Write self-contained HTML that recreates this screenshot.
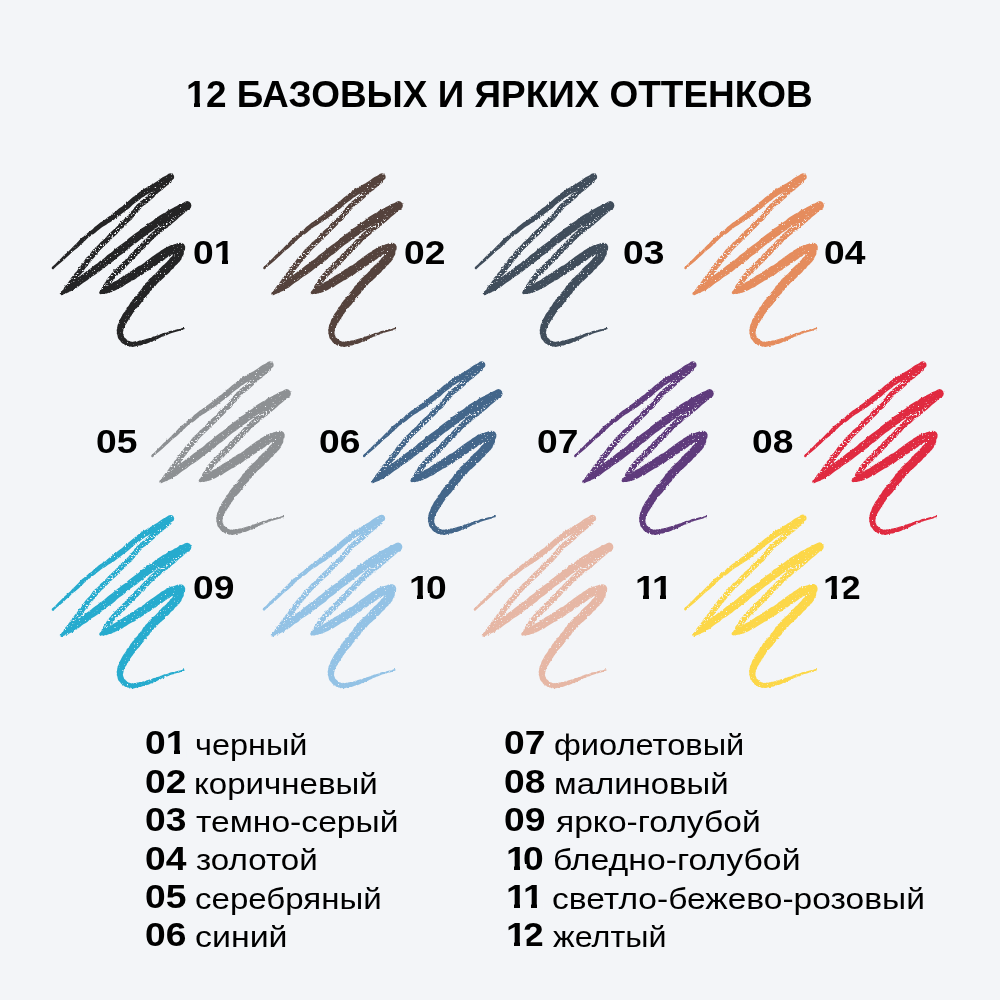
<!DOCTYPE html>
<html lang="ru"><head><meta charset="utf-8"><title>12 базовых и ярких оттенков</title>
<style>
html,body{margin:0;padding:0}
body{width:1000px;height:1000px;background:#f3f5f8;position:relative;overflow:hidden;
 font-family:"Liberation Sans",sans-serif;color:#000}
svg.art{position:absolute;left:0;top:0}
h1{position:absolute;left:185.5px;top:77.0px;margin:0;font-size:36.8px;line-height:36.8px;font-weight:700;white-space:nowrap;transform-origin:left top;transform:scaleX(1.0035)}
.n,.w{position:absolute;white-space:nowrap;transform-origin:left top}
.n{font-weight:700;font-size:32.5px;line-height:32.5px;transform:scaleX(1.145)}
.w{font-size:30.4px;line-height:30.4px}
.o{font-style:normal;position:relative;display:inline-block;margin-right:-0.1em}
h1 .o{margin-right:-0.015em}
.o::after{content:"";position:absolute;left:0;width:0.556em;bottom:0.1em;height:0.25em;background:linear-gradient(90deg,#f3f5f8 0,#f3f5f8 40.2%,transparent 40.2%,transparent 67.8%,#f3f5f8 67.8%)}
</style></head><body>
<svg class="art" width="1000" height="1000" viewBox="0 0 1000 1000">
<defs>
<filter id="fd" x="-10%" y="-10%" width="120%" height="120%" color-interpolation-filters="sRGB">
<feTurbulence type="fractalNoise" baseFrequency="0.35" numOctaves="2" seed="4" result="n1"/>
<feDisplacementMap in="SourceGraphic" in2="n1" scale="2.2" xChannelSelector="R" yChannelSelector="G" result="d"/>
<feTurbulence type="fractalNoise" baseFrequency="0.7" numOctaves="2" seed="7" result="n2"/>
<feColorMatrix in="n2" type="matrix" values="0 0 0 0 0  0 0 0 0 0  0 0 0 0 0  0 0 0 7 -1.15" result="m"/>
<feComposite in="d" in2="m" operator="in" result="c"/>
<feGaussianBlur in="c" stdDeviation="0.35"/>
</filter>
<filter id="fl" x="-10%" y="-10%" width="120%" height="120%" color-interpolation-filters="sRGB">
<feTurbulence type="fractalNoise" baseFrequency="0.45" numOctaves="2" seed="9" result="n1"/>
<feDisplacementMap in="SourceGraphic" in2="n1" scale="2.2" xChannelSelector="R" yChannelSelector="G" result="d"/>
<feTurbulence type="fractalNoise" baseFrequency="0.6" numOctaves="2" seed="12" result="n2"/>
<feColorMatrix in="n2" type="matrix" values="0 0 0 0 0  0 0 0 0 0  0 0 0 0 0  0 0 0 7 -2.0" result="m"/>
<feComposite in="d" in2="m" operator="in" result="c"/>
<feGaussianBlur in="c" stdDeviation="0.35"/>
</filter>
<symbol id="s" overflow="visible"><path filter="url(#fl)" d="M127.2,18.3 L126.0,19.1 L125.0,20.2 L123.8,20.9 L122.8,22.1 L121.8,23.1 L120.6,23.9 L119.2,24.7 L118.1,25.9 L117.0,27.0 L115.8,28.2 L114.4,29.2 L113.3,30.5 L112.0,31.6 L110.5,32.5 L109.3,33.7 L108.1,34.8 L107.2,36.2 L105.8,37.0 L104.6,38.1 L103.1,38.9 L102.0,40.2 L100.5,41.0 L99.5,42.5 L98.1,43.6 L96.7,44.7 L95.7,46.1 L94.6,47.2 L93.7,48.6 L92.9,50.0 L91.6,51.1 L90.4,52.6 L89.0,54.2 L87.6,56.0 L85.8,57.8 L83.6,59.3 L81.6,61.3 L79.5,63.3 L77.6,65.7 L75.5,68.0 L73.1,70.1 L70.7,72.3 L68.2,74.7 L65.9,77.5 L63.2,80.0 L60.3,82.4 L58.0,85.3 L55.2,87.5 L52.8,90.0 L50.9,92.8 L48.9,95.4 L46.4,97.6 L44.6,100.2 L42.9,102.7 L41.1,105.1 L39.3,107.1 L37.9,109.4 L36.6,111.5 L34.9,113.1 L33.7,115.0 L32.2,116.6 L30.9,118.1 L30.0,119.8 L29.0,121.2 L28.2,122.6 L26.9,123.5 L26.6,124.8 L25.5,125.4 L25.1,126.4 L24.4,127.1 L23.9,127.9 L23.7,129.0 L23.1,129.9 L22.5,130.7 L22.6,131.7 L23.3,132.6 L24.2,133.0 L25.2,132.9 L26.0,132.2 L26.8,131.4 L27.6,130.8 L28.1,130.0 L28.9,129.4 L29.2,128.4 L30.3,127.7 L31.2,126.8 L32.0,125.5 L33.0,124.2 L34.1,122.9 L35.2,121.4 L36.6,119.9 L37.7,118.1 L39.0,116.4 L40.6,114.6 L42.2,112.7 L43.8,110.6 L45.3,108.2 L47.4,106.1 L49.0,103.6 L51.0,101.2 L53.1,98.8 L55.1,96.4 L57.2,94.0 L59.2,91.3 L61.5,88.7 L64.2,86.3 L66.8,83.7 L69.4,81.2 L71.9,78.5 L74.5,76.2 L77.0,74.0 L79.1,71.6 L81.2,69.4 L83.5,67.4 L85.6,65.3 L87.5,63.2 L89.4,61.3 L91.5,59.8 L92.9,57.8 L94.5,56.3 L95.6,54.5 L97.0,53.3 L98.2,52.1 L99.1,50.9 L99.8,49.5 L101.0,48.6 L101.8,47.3 L102.9,46.2 L104.1,45.2 L105.5,44.4 L106.7,43.3 L108.1,42.4 L109.2,41.3 L110.5,40.2 L111.8,39.1 L113.1,38.0 L114.4,36.8 L115.4,35.4 L116.9,34.4 L117.9,33.1 L119.3,32.1 L120.5,31.0 L121.9,30.2 L123.0,29.2 L124.0,28.0 L125.3,27.3 L126.2,26.2 L127.3,25.2 L128.6,24.6 L129.6,23.5 L131.0,22.9 L131.6,21.5 L131.8,20.0 L131.2,18.7 L130.0,17.9 L128.5,17.7Z M144.0,45.2 L141.9,46.9 L139.9,48.9 L137.7,50.8 L135.6,52.5 L133.7,54.5 L131.5,56.0 L129.8,57.8 L128.1,59.3 L126.5,60.4 L125.4,61.7 L123.8,62.4 L123.0,63.7 L121.7,64.3 L120.4,65.1 L119.5,66.4 L118.1,67.2 L116.7,68.2 L115.4,69.2 L114.4,70.7 L113.0,71.7 L111.6,72.7 L110.5,74.0 L109.1,75.0 L107.9,76.3 L107.0,77.8 L105.7,78.8 L104.3,79.7 L103.3,81.1 L102.1,82.3 L100.9,83.6 L99.6,85.1 L97.9,86.4 L96.3,88.2 L94.2,89.9 L92.6,92.3 L90.2,94.1 L88.6,96.5 L86.3,98.2 L84.6,100.3 L82.8,101.9 L81.4,103.5 L80.1,105.1 L78.4,106.1 L77.3,107.5 L76.2,108.8 L74.9,109.8 L74.0,111.1 L72.9,112.1 L72.0,112.9 L71.2,113.8 L70.7,114.8 L70.1,115.5 L69.4,116.1 L68.8,116.8 L68.1,117.4 L67.6,118.3 L66.9,119.1 L66.5,120.2 L65.9,121.2 L65.3,122.2 L64.8,123.2 L64.1,124.0 L63.5,124.7 L63.0,125.4 L62.9,126.3 L62.4,126.7 L62.1,127.3 L61.9,127.8 L61.6,128.2 L61.5,128.8 L61.4,129.3 L61.1,129.8 L60.8,130.9 L61.1,132.0 L61.8,132.9 L62.9,133.2 L64.0,132.9 L65.0,132.3 L65.2,131.7 L65.6,131.3 L65.9,130.9 L66.2,130.5 L66.5,130.0 L67.2,129.7 L67.4,129.1 L67.8,128.4 L68.2,127.7 L69.0,127.0 L69.3,125.9 L69.8,125.0 L70.4,124.1 L71.4,123.5 L71.8,122.5 L72.2,121.6 L72.7,120.8 L73.5,120.3 L73.7,119.5 L74.4,119.0 L74.7,118.2 L75.7,117.8 L76.3,117.0 L76.9,115.8 L77.9,114.9 L79.2,114.1 L80.3,113.0 L81.3,111.5 L82.5,110.2 L84.2,109.2 L85.5,107.6 L86.9,105.9 L88.6,104.2 L90.6,102.4 L92.8,100.5 L94.5,98.2 L96.8,96.3 L98.7,94.2 L100.4,92.3 L102.0,90.5 L103.4,88.9 L105.1,87.8 L106.1,86.3 L107.2,85.0 L108.7,84.2 L109.6,82.9 L110.7,81.6 L111.9,80.5 L113.1,79.3 L114.3,78.1 L115.6,77.1 L117.1,76.2 L118.3,75.1 L119.5,73.9 L120.7,72.8 L121.9,71.8 L123.2,71.0 L124.2,70.0 L125.3,69.0 L126.5,68.2 L127.8,67.4 L128.8,66.0 L130.5,65.2 L131.9,63.7 L133.7,62.3 L135.6,60.8 L137.5,58.9 L139.5,57.0 L141.8,55.3 L143.9,53.5 L145.9,51.5 L147.9,49.7 L149.0,48.5 L149.1,46.9 L148.4,45.4 L147.0,44.5 L145.4,44.4Z"/><path filter="url(#fd)" d="M13.8,108.8 L16.7,106.0 L20.0,103.3 L23.3,100.6 L26.4,97.5 L29.5,94.8 L32.2,92.0 L35.0,89.8 L37.4,88.0 L39.2,86.3 L40.5,85.0 L41.3,83.7 L42.5,83.2 L43.3,82.5 L43.9,81.4 L45.1,80.7 L46.2,79.4 L47.8,78.1 L49.6,76.8 L51.5,75.2 L53.6,74.0 L55.6,72.5 L57.5,70.7 L59.5,69.2 L61.3,67.7 L63.1,66.5 L65.0,65.6 L66.6,64.5 L68.1,63.2 L70.1,62.2 L72.0,60.9 L74.3,59.6 L76.7,57.7 L79.5,55.6 L82.6,53.1 L86.1,50.6 L89.5,47.9 L92.7,44.8 L96.0,42.2 L99.3,40.1 L101.7,37.8 L104.1,36.4 L106.0,35.0 L107.9,34.1 L109.6,33.0 L111.3,32.3 L113.2,31.7 L115.0,30.8 L116.9,29.7 L118.8,28.4 L120.7,27.2 L122.6,26.0 L124.5,24.7 L126.5,23.6 L128.6,22.6 L130.3,21.1 L132.3,19.9 L133.8,18.8 L134.2,16.9 L133.7,15.1 L132.3,13.7 L130.4,13.3 L128.5,13.8 L126.7,15.2 L124.7,16.2 L122.6,17.3 L120.8,18.6 L119.0,20.0 L117.1,21.3 L115.1,22.4 L113.3,23.7 L111.5,24.6 L109.9,25.6 L108.1,26.3 L106.6,27.6 L104.7,28.6 L102.7,29.7 L100.5,31.2 L98.2,33.0 L95.5,35.2 L92.4,37.6 L89.1,40.4 L85.6,43.0 L82.4,46.2 L78.9,48.6 L75.9,51.2 L73.2,53.2 L71.0,55.0 L68.9,56.4 L67.1,57.8 L65.6,59.3 L63.8,60.3 L62.1,61.5 L60.3,62.6 L58.5,64.0 L56.7,65.6 L54.6,67.0 L52.9,69.0 L50.9,70.6 L48.8,72.0 L47.0,73.6 L45.2,75.0 L43.7,76.5 L42.1,77.4 L41.2,78.5 L40.5,79.5 L39.4,80.1 L38.7,81.1 L37.7,82.1 L36.4,83.4 L34.7,85.1 L32.5,87.2 L30.1,89.8 L27.3,92.5 L24.1,95.1 L21.1,98.2 L18.0,101.2 L15.1,104.3 L12.0,106.9 L11.8,107.6 L11.7,108.3 L12.1,108.9 L12.6,109.2 L13.3,109.3Z M22.5,135.1 L23.7,134.2 L25.1,133.7 L26.5,133.2 L28.0,132.8 L29.2,131.8 L30.7,131.2 L32.3,130.6 L34.0,129.8 L35.3,128.5 L37.1,127.7 L38.6,126.5 L40.1,125.3 L41.7,124.0 L43.4,122.7 L45.4,121.6 L47.4,120.3 L49.3,118.4 L51.6,116.7 L54.3,115.2 L56.9,113.4 L59.6,111.6 L62.1,109.4 L64.7,107.5 L67.3,105.5 L69.9,103.7 L72.4,101.8 L74.9,100.0 L77.0,97.7 L79.5,95.7 L82.2,93.9 L84.8,91.9 L87.3,89.5 L90.2,87.2 L93.3,84.8 L96.8,82.6 L99.9,79.9 L103.1,77.4 L106.5,75.2 L109.4,72.7 L112.4,70.9 L115.0,68.7 L117.6,67.0 L120.4,65.6 L122.9,64.1 L125.2,62.4 L127.5,60.9 L130.0,59.7 L132.1,58.0 L134.3,56.8 L136.6,56.0 L138.7,54.9 L140.5,53.4 L142.6,52.3 L144.9,51.7 L146.9,50.5 L149.1,49.5 L150.7,47.9 L151.4,45.7 L150.9,43.5 L149.4,41.8 L147.2,41.1 L145.0,41.7 L143.0,42.9 L140.8,43.7 L138.7,44.7 L136.8,46.1 L134.6,46.9 L132.5,48.3 L130.1,49.4 L127.7,50.6 L125.6,52.4 L123.0,53.5 L120.6,55.1 L118.1,56.6 L115.5,58.3 L113.2,60.4 L110.5,62.3 L107.5,63.9 L104.8,66.5 L101.4,68.4 L98.5,71.3 L95.1,73.6 L91.8,76.1 L88.5,78.6 L85.6,81.3 L82.6,83.5 L79.7,85.4 L77.1,87.6 L74.5,89.6 L72.2,91.7 L69.7,93.5 L67.2,95.3 L65.0,97.4 L62.6,99.4 L59.9,101.0 L57.6,103.2 L54.8,104.9 L52.3,106.9 L49.9,109.0 L47.3,110.6 L45.0,112.4 L42.9,114.1 L40.8,115.6 L38.8,116.8 L37.2,118.3 L35.7,119.8 L34.3,121.1 L32.7,122.0 L31.4,123.2 L30.0,124.2 L28.8,125.3 L27.5,126.2 L26.5,127.4 L25.5,128.6 L24.1,129.2 L22.9,130.0 L21.8,131.1 L20.6,132.0 L20.0,132.7 L19.8,133.5 L20.0,134.4 L20.7,135.0 L21.5,135.2Z M61.6,134.0 L62.7,134.0 L63.5,133.6 L64.6,133.9 L65.5,133.4 L66.6,133.6 L67.5,133.2 L68.4,132.7 L69.6,132.9 L70.2,132.3 L71.1,132.2 L71.9,132.0 L72.5,131.3 L73.4,131.0 L74.5,130.7 L75.6,130.2 L77.0,129.5 L78.5,128.6 L80.3,127.7 L82.3,126.9 L84.2,125.5 L86.2,124.3 L88.2,123.0 L90.3,121.7 L92.2,120.6 L94.3,119.8 L96.2,118.6 L97.8,117.1 L99.8,116.0 L101.8,114.9 L103.7,113.7 L105.4,112.3 L107.3,110.9 L109.5,110.0 L111.3,108.3 L113.4,107.0 L115.5,105.8 L117.4,104.4 L119.2,103.0 L121.0,102.0 L122.7,100.9 L124.1,99.7 L125.6,98.9 L126.7,97.8 L127.8,97.0 L129.1,96.6 L130.0,95.9 L130.8,95.0 L131.9,94.7 L132.9,94.2 L134.0,93.9 L135.2,93.8 L136.3,93.3 L137.6,93.1 L138.9,92.6 L140.3,92.4 L141.8,92.4 L143.9,90.9 L145.1,88.7 L145.1,86.3 L143.9,84.1 L141.7,82.9 L139.3,82.9 L138.0,83.0 L136.8,83.4 L135.5,84.0 L134.1,84.3 L132.7,84.9 L131.1,84.9 L129.7,85.7 L128.1,86.4 L126.7,87.3 L125.2,87.8 L124.0,88.8 L122.7,89.5 L121.3,90.2 L120.1,91.2 L118.9,92.2 L117.3,93.1 L115.7,94.3 L113.9,95.6 L112.0,96.8 L110.1,98.2 L108.2,99.7 L106.2,101.0 L104.5,102.7 L102.6,104.0 L100.9,105.3 L98.7,106.0 L96.9,107.3 L95.1,108.6 L93.2,109.6 L91.5,111.0 L89.4,111.9 L87.8,113.5 L85.9,114.6 L83.7,115.6 L81.9,117.1 L79.8,118.2 L78.0,119.7 L76.2,120.7 L74.4,121.6 L72.9,122.3 L71.9,123.4 L70.9,123.8 L70.0,124.2 L69.4,124.7 L68.8,125.3 L68.0,125.3 L67.3,125.7 L66.6,126.5 L65.7,126.7 L65.1,127.6 L64.1,127.8 L63.5,128.6 L62.7,129.1 L61.9,129.8 L61.1,130.3 L60.2,130.7 L59.6,131.4 L59.2,132.3 L59.3,133.2 L59.9,133.9 L60.8,134.3Z M135.8,85.9 L135.6,87.2 L135.1,88.5 L134.9,89.8 L134.6,91.0 L133.9,91.9 L133.7,92.9 L133.5,93.9 L132.9,94.6 L132.5,95.4 L132.1,96.3 L131.2,96.9 L130.3,97.7 L129.6,98.6 L128.9,99.8 L127.8,100.7 L126.8,101.9 L125.7,103.1 L124.5,104.2 L123.1,105.2 L121.8,106.5 L120.6,107.8 L119.2,109.0 L118.3,110.7 L116.9,111.9 L115.8,113.2 L114.5,114.5 L113.0,115.5 L111.8,116.9 L110.4,118.1 L109.0,119.2 L108.0,120.8 L106.8,122.2 L105.4,123.3 L104.7,124.9 L103.2,125.9 L102.5,127.4 L101.7,128.8 L100.7,130.0 L99.8,131.2 L98.5,132.2 L97.9,133.7 L96.9,135.0 L95.6,136.0 L94.8,137.4 L93.7,138.7 L92.5,139.8 L91.7,141.2 L90.5,142.4 L89.8,143.8 L89.0,145.2 L88.1,146.5 L86.8,147.5 L86.3,149.1 L85.5,150.4 L84.6,151.7 L83.6,152.9 L82.8,154.1 L82.1,155.5 L81.3,156.9 L80.6,158.3 L79.8,159.6 L79.3,161.0 L78.9,162.5 L78.3,163.7 L77.6,164.9 L77.5,166.2 L77.1,167.3 L77.2,168.6 L76.7,169.7 L76.7,170.9 L77.0,172.1 L76.7,173.3 L77.2,174.5 L77.5,175.6 L77.7,176.8 L78.0,178.0 L78.6,179.1 L79.4,180.0 L80.3,180.8 L80.9,181.9 L81.7,182.7 L82.5,183.6 L83.7,184.0 L84.7,184.8 L85.8,185.5 L87.0,186.0 L88.3,186.0 L89.5,186.8 L91.0,186.5 L92.3,186.9 L93.8,186.8 L95.1,186.4 L96.5,186.1 L97.8,185.8 L99.2,185.5 L100.5,185.5 L101.8,185.0 L103.1,184.5 L104.3,184.1 L105.7,184.0 L107.0,183.5 L108.2,183.1 L109.5,182.6 L110.6,181.8 L112.0,181.6 L113.2,180.9 L114.5,180.5 L115.7,179.8 L117.0,179.3 L118.2,178.7 L119.4,178.1 L120.6,177.6 L121.7,176.8 L122.9,176.4 L124.1,176.2 L125.1,175.3 L126.4,175.0 L127.7,174.7 L128.9,174.1 L130.3,173.4 L131.8,172.9 L133.5,172.6 L135.2,172.0 L137.0,171.4 L138.9,171.1 L140.7,170.5 L142.4,169.5 L144.2,169.3 L144.4,168.9 L144.6,168.6 L144.6,168.3 L144.4,168.1 L144.1,167.9 L143.8,167.7 L142.0,168.1 L140.3,169.0 L138.3,169.1 L136.5,169.6 L134.7,170.1 L132.9,170.5 L131.2,170.7 L129.6,171.1 L128.2,171.8 L126.9,172.4 L125.6,172.7 L124.3,173.0 L123.0,173.1 L121.9,173.8 L120.7,174.1 L119.5,174.8 L118.3,175.2 L116.9,175.5 L115.6,175.9 L114.4,176.5 L113.0,176.6 L111.8,177.4 L110.7,178.0 L109.2,177.9 L108.1,178.4 L106.7,178.7 L105.6,179.3 L104.3,179.4 L103.1,180.0 L101.9,180.1 L100.7,180.5 L99.5,180.5 L98.3,180.9 L97.0,181.0 L95.8,181.5 L94.5,181.3 L93.3,181.8 L92.2,181.4 L91.3,181.8 L90.4,181.5 L89.7,181.1 L88.9,181.1 L88.1,180.6 L87.5,180.0 L86.8,179.7 L86.3,179.1 L85.7,178.6 L85.2,178.0 L84.6,177.7 L84.1,177.1 L84.0,176.3 L83.6,175.6 L83.4,174.9 L83.0,174.2 L83.2,173.4 L82.8,172.7 L83.3,172.0 L83.0,171.3 L83.6,170.6 L83.3,169.8 L83.5,169.0 L84.1,168.2 L84.2,167.2 L84.7,166.3 L85.2,165.3 L85.8,164.3 L86.7,163.3 L87.1,161.9 L88.1,160.8 L88.7,159.5 L89.7,158.4 L90.2,157.0 L91.3,156.0 L91.8,154.6 L92.8,153.6 L93.5,152.3 L94.7,151.2 L95.3,149.8 L96.2,148.6 L97.3,147.5 L98.3,146.3 L99.4,145.3 L100.4,144.0 L101.3,142.7 L102.2,141.4 L103.4,140.3 L104.1,138.8 L105.3,137.7 L106.4,136.4 L107.2,135.0 L108.5,134.0 L109.5,132.8 L110.1,131.3 L111.3,130.4 L112.4,129.2 L113.3,128.0 L114.4,126.9 L115.7,125.8 L116.7,124.3 L117.9,123.1 L119.1,121.8 L120.7,120.8 L121.9,119.4 L123.3,118.3 L124.6,117.1 L125.6,115.6 L127.2,114.5 L128.5,113.3 L129.8,111.9 L130.8,110.5 L132.2,109.3 L133.5,108.4 L134.3,107.1 L135.1,105.9 L136.2,105.1 L137.4,104.2 L138.1,102.9 L139.4,102.1 L140.2,100.7 L141.3,99.5 L141.7,97.9 L142.4,96.5 L143.3,95.2 L143.8,93.9 L143.8,92.5 L144.0,91.2 L144.7,90.2 L145.1,89.1 L145.2,86.6 L144.1,84.4 L142.1,83.0 L139.6,82.8 L137.4,83.9Z"/></symbol>
</defs>
<use href="#s" x="40.0" y="160.0" fill="#242425"/>
<use href="#s" x="251.5" y="160.0" fill="#54423c"/>
<use href="#s" x="463.0" y="160.0" fill="#404d5b"/>
<use href="#s" x="672.6" y="160.0" fill="#e58c5d"/>
<use href="#s" x="139.5" y="348.0" fill="#8d9093"/>
<use href="#s" x="351.2" y="348.0" fill="#43668a"/>
<use href="#s" x="562.4" y="348.0" fill="#5f3b7c"/>
<use href="#s" x="792.4" y="348.0" fill="#e02a40"/>
<use href="#s" x="40.0" y="501.6" fill="#26abce"/>
<use href="#s" x="251.0" y="501.4" fill="#93c2e5"/>
<use href="#s" x="462.0" y="501.5" fill="#e6b7a5"/>
<use href="#s" x="672.4" y="501.2" fill="#fcd748"/>
</svg>
<h1><i class="o">1</i>2 БАЗОВЫХ И ЯРКИХ ОТТЕНКОВ</h1>
<b class="n" style="left:192.7px;top:237.2px">0<i class="o">1</i></b>
<b class="n" style="left:403.8px;top:237.2px">02</b>
<b class="n" style="left:623.3px;top:237.2px">03</b>
<b class="n" style="left:823.7px;top:237.2px">04</b>
<b class="n" style="left:96.1px;top:425.9px">05</b>
<b class="n" style="left:318.7px;top:425.9px">06</b>
<b class="n" style="left:536.7px;top:425.9px">07</b>
<b class="n" style="left:751.7px;top:425.9px">08</b>
<b class="n" style="left:192.7px;top:572.0px">09</b>
<b class="n" style="left:409.2px;top:572.0px"><i class="o">1</i>0</b>
<b class="n" style="left:635.0px;top:572.0px"><i class="o">1</i><i class="o">1</i></b>
<b class="n" style="left:823.2px;top:572.0px"><i class="o">1</i>2</b>
<b class="n" style="left:145.2px;top:727.3px">0<i class="o">1</i></b><span class="w" style="left:194.6px;top:729.1px;transform:scaleX(1.0688)">черный</span>
<b class="n" style="left:145.2px;top:765.7px">02</b><span class="w" style="left:193.5px;top:767.5px;transform:scaleX(1.0878)">коричневый</span>
<b class="n" style="left:145.2px;top:804.1px">03</b><span class="w" style="left:195.7px;top:805.9px;transform:scaleX(1.1065)">темно-серый</span>
<b class="n" style="left:145.2px;top:842.5px">04</b><span class="w" style="left:196.4px;top:844.3px;transform:scaleX(1.0911)">золотой</span>
<b class="n" style="left:145.2px;top:880.9px">05</b><span class="w" style="left:195.3px;top:882.7px;transform:scaleX(1.0883)">серебряный</span>
<b class="n" style="left:145.2px;top:919.3px">06</b><span class="w" style="left:195.3px;top:921.1px;transform:scaleX(1.116)">синий</span>
<b class="n" style="left:504.4px;top:727.3px">07</b><span class="w" style="left:554.1px;top:729.1px;transform:scaleX(1.0734)">фиолетовый</span>
<b class="n" style="left:504.4px;top:765.7px">08</b><span class="w" style="left:554.1px;top:767.5px;transform:scaleX(1.0841)">малиновый</span>
<b class="n" style="left:504.4px;top:804.1px">09</b><span class="w" style="left:555.9px;top:805.9px;transform:scaleX(1.1051)">ярко-голубой</span>
<b class="n" style="left:505.7px;top:842.5px"><i class="o">1</i>0</b><span class="w" style="left:552.9px;top:844.3px;transform:scaleX(1.1111)">бледно-голубой</span>
<b class="n" style="left:505.7px;top:880.9px"><i class="o">1</i><i class="o">1</i></b><span class="w" style="left:551.5px;top:882.7px;transform:scaleX(1.1037)">светло-бежево-розовый</span>
<b class="n" style="left:505.7px;top:919.3px"><i class="o">1</i>2</b><span class="w" style="left:553.4px;top:921.1px;transform:scaleX(1.0638)">желтый</span>

</body></html>
